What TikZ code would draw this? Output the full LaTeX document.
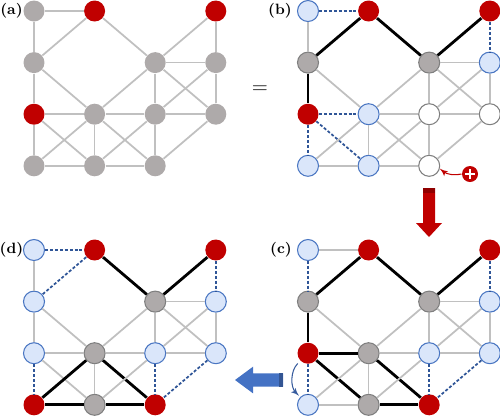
\documentclass[tikz,border=0pt]{standalone}
\usepackage{tikz}
\usetikzlibrary{arrows,positioning,calc}

\definecolor{sitered}{HTML}{C00000}
\definecolor{sitegray}{HTML}{AEAAAA}
\definecolor{siterim}{HTML}{7F7F7F}
\definecolor{siteblue}{HTML}{DAE6FA}
\definecolor{bluerim}{HTML}{4A76C2}
\definecolor{edgegray}{HTML}{C0C0C0}
\definecolor{dashblue}{HTML}{2F5597}
\definecolor{arrowblue}{HTML}{4472C4}

\begin{document}
\begin{tikzpicture}[x=0.02cm, y=-0.02cm,
            site/.style={circle, minimum size=0.42cm, inner sep=0pt, line width=0.6pt},
            flat/.style={site, fill=sitegray},
            gy/.style={site, fill=sitegray, draw=siterim},
            rd/.style={site, fill=sitered},
            bl/.style={site, fill=siteblue, draw=bluerim},
            wh/.style={site, fill=white, draw=siterim},
            gedge/.style={draw=edgegray, line width=1pt},
            bedge/.style={draw=black, line width=1.6pt},
            dedge/.style={draw=dashblue, line width=1pt, dash pattern=on 1.7pt off 1.1pt},
            tag/.style={font=\fontsize{8.5}{10}\selectfont\bfseries, inner sep=0pt}]
        \useasboundingbox (0,0) rectangle (500,417);

        % panel (a)
        \foreach \c/\r/\s in {0/0/flat, 1/0/rd, 3/0/rd, 0/1/flat, 2/1/flat, 3/1/flat,
                              0/2/rd, 1/2/flat, 2/2/flat, 3/2/flat, 0/3/flat, 1/3/flat, 2/3/flat}
            \node[\s] (a\c\r) at (34+60.6*\c, 11+51.6*\r) {};
        \foreach \u/\v in {00/10, 00/01, 10/01, 10/21, 30/21, 30/31, 01/02, 01/12, 21/31,
                           21/12, 21/22, 21/32, 31/22, 31/32, 02/12, 02/03, 02/13, 12/22,
                           12/03, 12/13, 12/23, 22/32, 22/13, 22/23, 32/23, 03/13, 13/23}
            \draw[gedge] (a\u) -- (a\v);
        \node[tag] at (11.5,11) {(a)};

        \node[font=\large] at (260,90) {=};

        % panel (b)
        \foreach \c/\r/\s in {0/0/bl, 1/0/rd, 3/0/rd, 0/1/gy, 2/1/gy, 3/1/bl,
                              0/2/rd, 1/2/bl, 2/2/wh, 3/2/wh, 0/3/bl, 1/3/bl, 2/3/wh}
            \node[\s] (b\c\r) at (308+60.6*\c, 11+51.6*\r) {};
        \foreach \u/\v/\s in {00/10/dedge, 00/01/gedge, 10/01/bedge, 10/21/bedge, 30/21/bedge,
                              30/31/dedge, 01/02/bedge, 01/12/gedge, 21/31/gedge, 21/12/gedge,
                              21/22/gedge, 21/32/gedge, 31/22/gedge, 31/32/gedge, 02/12/dedge,
                              02/03/dedge, 02/13/dedge, 12/22/gedge, 12/03/gedge, 12/13/gedge,
                              12/23/gedge, 22/32/gedge, 22/13/gedge, 22/23/gedge, 32/23/gedge,
                              03/13/gedge, 13/23/gedge}
            \draw[\s] (b\u) -- (b\v);
        \node[tag] at (280,11) {(b)};

        % the added site
        \node[site, fill=sitered, minimum size=0.32cm] (add) at (470,174) {};
        \draw[white, line width=1.4pt] ($(add)+(-5,0)$) -- ($(add)+(5,0)$);
        \draw[white, line width=1.4pt] ($(add)+(0,-5)$) -- ($(add)+(0,5)$);
        \draw[sitered, line width=0.6pt, -latex'] (add.west) to[bend left=25] (b23.-15);

        % step arrows
        \fill[sitered] (423,188) -- (435,188) -- (435,223) -- (442,223) -- (429,237)
            -- (416,223) -- (423,223) -- cycle;
        \fill[sitered!75!black] (423,188) rectangle (435,193);
        \fill[arrowblue] (283,373.3) -- (253,373.3) -- (253,366.7) -- (235,380)
            -- (253,393.3) -- (253,386.7) -- (283,386.7) -- cycle;
        \fill[arrowblue!75!black] (279,373.3) rectangle (283,386.7);

        % panel (c)
        \foreach \c/\r/\s in {0/0/bl, 1/0/rd, 3/0/rd, 0/1/gy, 2/1/gy, 3/1/bl,
                              0/2/rd, 1/2/gy, 2/2/bl, 3/2/bl, 0/3/bl, 1/3/gy, 2/3/rd}
            \node[\s] (c\c\r) at (308+60.6*\c, 250+51.6*\r) {};
        \foreach \u/\v/\s in {00/10/gedge, 00/01/dedge, 10/01/bedge, 10/21/bedge, 30/21/bedge,
                              30/31/dedge, 01/02/bedge, 01/12/gedge, 21/31/gedge, 21/12/gedge,
                              21/22/gedge, 21/32/gedge, 31/22/gedge, 31/32/gedge, 02/12/bedge,
                              02/03/dedge, 02/13/bedge, 12/22/gedge, 12/03/gedge, 12/13/gedge,
                              12/23/bedge, 22/32/gedge, 22/13/gedge, 22/23/dedge, 32/23/dedge,
                              03/13/gedge, 13/23/bedge}
            \draw[\s] (c\u) -- (c\v);
        \node[tag] at (281,250) {(c)};
        \draw[arrowblue!80!black, line width=0.6pt, -latex', shorten <=2pt, shorten >=1pt]
            (c02.225) to[bend right=45] (c03.135);

        % panel (d)
        \foreach \c/\r/\s in {0/0/bl, 1/0/rd, 3/0/rd, 0/1/bl, 2/1/gy, 3/1/bl,
                              0/2/bl, 1/2/gy, 2/2/bl, 3/2/bl, 0/3/rd, 1/3/gy, 2/3/rd}
            \node[\s] (d\c\r) at (34+60.6*\c, 250+51.6*\r) {};
        \foreach \u/\v/\s in {00/10/dedge, 00/01/gedge, 10/01/dedge, 10/21/bedge, 30/21/bedge,
                              30/31/dedge, 01/02/gedge, 01/12/gedge, 21/31/gedge, 21/12/gedge,
                              21/22/gedge, 21/32/gedge, 31/22/gedge, 31/32/gedge, 02/12/gedge,
                              02/03/dedge, 02/13/gedge, 12/22/gedge, 12/03/bedge, 12/13/gedge,
                              12/23/bedge, 22/32/gedge, 22/13/gedge, 22/23/dedge, 32/23/dedge,
                              03/13/bedge, 13/23/bedge}
            \draw[\s] (d\u) -- (d\v);
        \node[tag] at (11.5,250) {(d)};
\end{tikzpicture}
\end{document}
